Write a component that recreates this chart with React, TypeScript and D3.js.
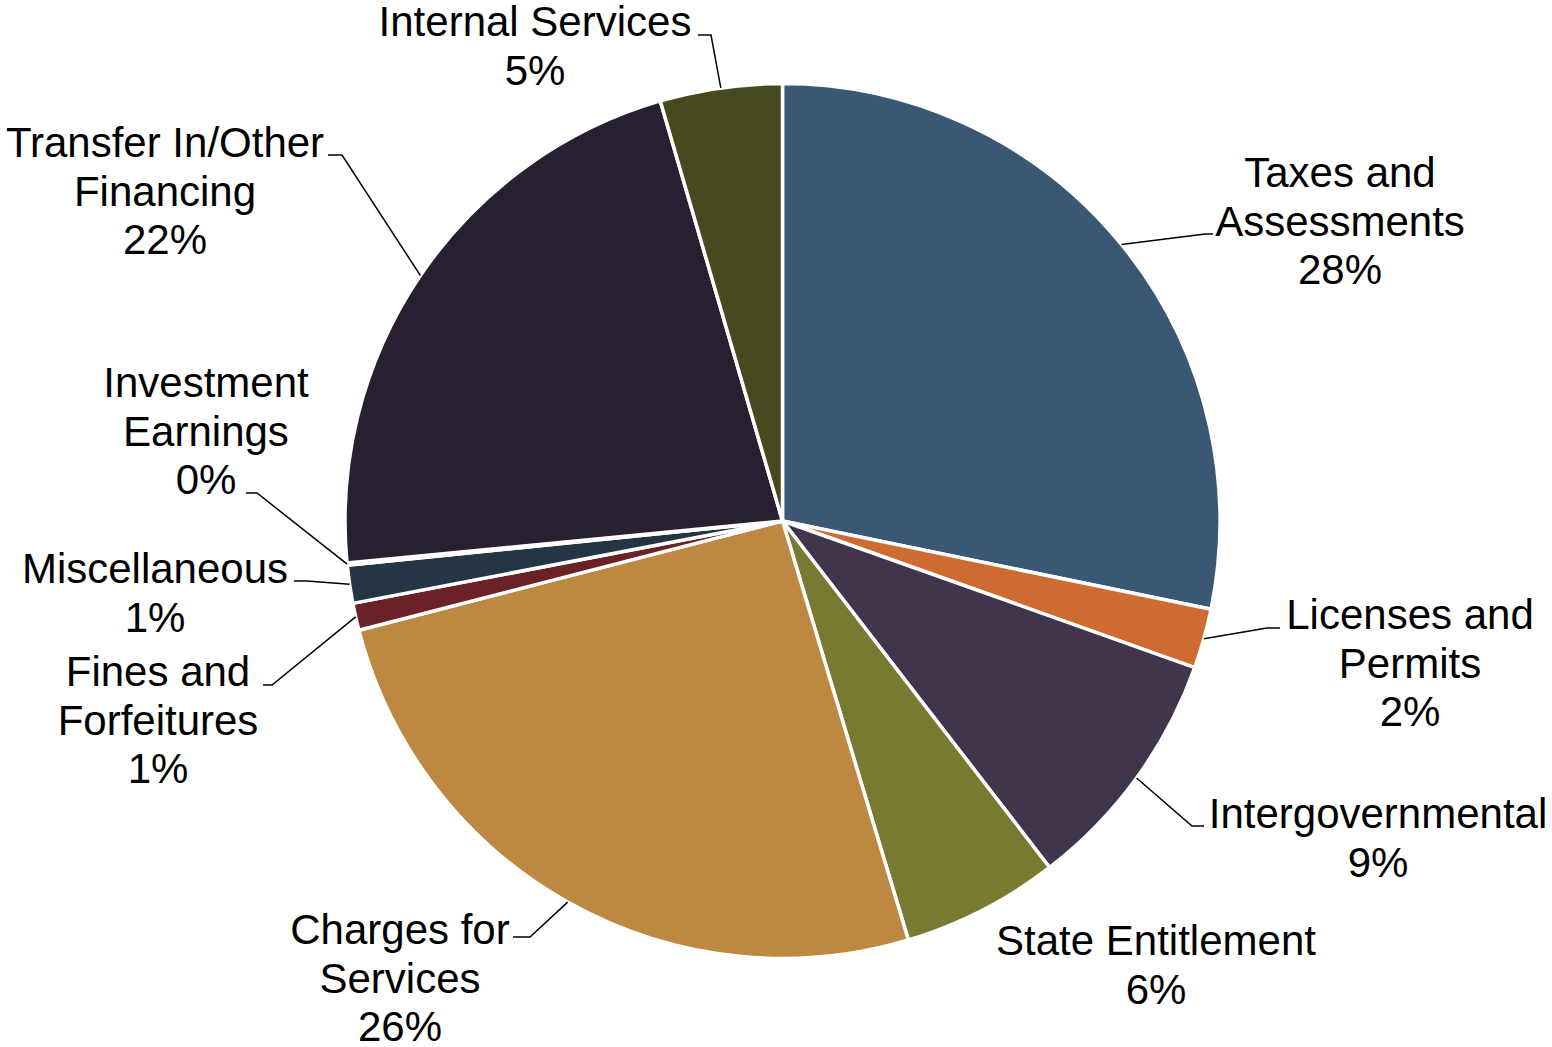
import React from "react";
import * as d3 from "d3";

const WIDTH = 1552;
const HEIGHT = 1047;
const CX = 782.5;
const CY = 521;
const RADIUS = 437.5;
const FONT = "'Liberation Sans', Arial, sans-serif";

// revenue sources, clockwise from 12 o'clock
const categories = [
  "Taxes and Assessments",
  "Licenses and Permits",
  "Intergovernmental",
  "State Entitlement",
  "Charges for Services",
  "Fines and Forfeitures",
  "Miscellaneous",
  "Investment Earnings",
  "Transfer In/Other Financing",
  "Internal Services",
];
const shares = [28.2, 2.2, 9.1, 5.8, 25.6, 1.0, 1.4, 0.08, 22.0, 4.5];
const colors = [
  "#3a5773", "#cd6b30", "#41344d", "#787a32", "#bd8842",
  "#6b2226", "#243545", "#ffffff", "#282030", "#48491e",
];
const labelLines = [
  ["Taxes and", "Assessments"],
  ["Licenses and", "Permits"],
  ["Intergovernmental"],
  ["State Entitlement"],
  ["Charges for", "Services"],
  ["Fines and", "Forfeitures"],
  ["Miscellaneous"],
  ["Investment", "Earnings"],
  ["Transfer In/Other", "Financing"],
  ["Internal Services"],
];

// label placement: text center, first baseline, leader elbow + end (null = no leader)
const labelLayout: { x: number; y: number; leader: [number, number][] | null }[] = [
  { x: 1340, y: 187, leader: [[1205, 234], [1213, 234]] },
  { x: 1410, y: 629, leader: [[1267, 628], [1280, 628]] },
  { x: 1378, y: 828, leader: [[1192, 826], [1204, 826]] },
  { x: 1156, y: 955, leader: null },
  { x: 400, y: 944, leader: [[530, 937], [513, 937]] },
  { x: 158, y: 686, leader: [[272, 685], [263, 685]] },
  { x: 155, y: 583, leader: [[307, 581], [294, 581]] },
  { x: 206, y: 397, leader: [[257, 493], [246, 493]] },
  { x: 165, y: 157, leader: [[342, 155], [328, 155]] },
  { x: 535, y: 36, leader: [[711, 35], [698, 35]] },
];

const LINE_H = 48.7;

export default function App() {
  const total = d3.sum(shares);
  const pie = d3
    .pie<number>()
    .sort(null)
    .value((d) => d);
  const arcs = pie(shares);

  const arc = d3
    .arc<d3.PieArcDatum<number>>()
    .innerRadius(0)
    .outerRadius(RADIUS);
  // zero-width ring used to find the point on the rim for leaders
  const rim = d3
    .arc<d3.PieArcDatum<number>>()
    .innerRadius(RADIUS)
    .outerRadius(RADIUS);
  const pct = d3.format(".0%");
  const line = d3.line();

  return (
    <svg
      width={WIDTH}
      height={HEIGHT}
      style={{ position: "absolute", left: 0, top: 0, background: "#fff" }}
    >
      <g transform={`translate(${CX},${CY})`}>
        {arcs.map((a, i) => (
          <path
            key={categories[i]}
            d={arc(a) || ""}
            fill={colors[i]}
            stroke="#fff"
            strokeWidth={3.5}
            strokeLinejoin="round"
          />
        ))}
      </g>
      {arcs.map((a, i) => {
        const lay = labelLayout[i];
        if (!lay.leader) return null;
        const [px, py] = rim.centroid(a);
        const pts: [number, number][] = [[CX + px, CY + py], ...lay.leader];
        return (
          <path
            key={"l" + i}
            d={line(pts) || ""}
            fill="none"
            stroke="#000"
            strokeWidth={1.5}
          />
        );
      })}
      {arcs.map((a, i) => {
        const lay = labelLayout[i];
        const lines = [...labelLines[i], pct(shares[i] / total)];
        return (
          <text
            key={"t" + i}
            x={lay.x}
            y={lay.y}
            textAnchor="middle"
            fontFamily={FONT}
            fontSize={42}
            fill="#000"
          >
            {lines.map((s, j) => (
              <tspan key={j} x={lay.x} y={lay.y + j * LINE_H}>
                {s}
              </tspan>
            ))}
          </text>
        );
      })}
    </svg>
  );
}
